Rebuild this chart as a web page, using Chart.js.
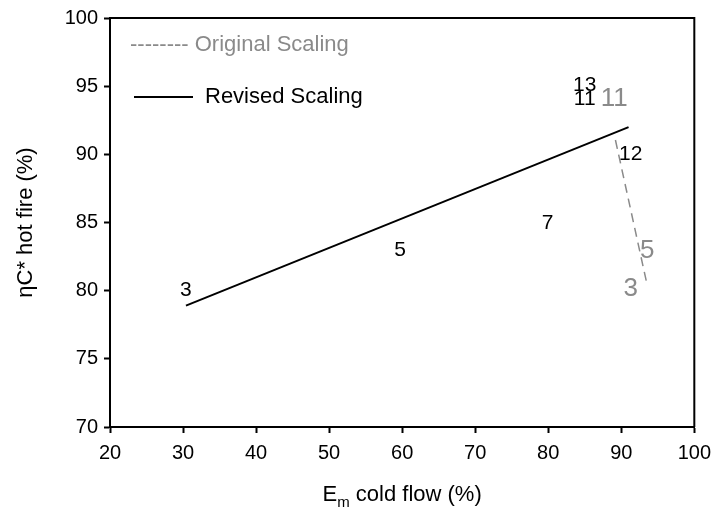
<!DOCTYPE html>
<html>
<head>
<meta charset="utf-8">
<script src="https://cdn.jsdelivr.net/npm/chart.js@4"></script>
<style>
  body { margin: 0; background: #fff; }
  #wrap { width: 719px; height: 519px; }
</style>
</head>
<body>
<div id="wrap"><canvas id="myChart" width="719" height="519"></canvas></div>
<script>
// lines
var revisedX = [30.4, 91.0];
var revisedY = [78.9, 92.0];
var originalX = [89.2, 93.55];
var originalY = [91.05, 80.4];

// point labels
var revisedText = ['3', '5', '7', '12', '13', '11'];
var revisedTextX = [30.4, 59.7, 79.9, 91.3, 85.0, 85.0];
var revisedTextY = [80.0, 83.0, 84.95, 90.0, 95.1, 94.05];
var originalText = ['3', '5', '11'];
var originalTextX = [91.3, 93.55, 89.05];
var originalTextY = [80.1, 82.9, 94.1];

var xTitle = ['E', 'm', ' cold flow (%)'];
var yTitle = 'ηC* hot fire (%)';
var legendText = ['-------- Original Scaling', 'Revised Scaling'];

var FONT = '"Liberation Sans", Arial, sans-serif';
var GREY = '#8a8a8a';

function toPoints(xs, ys) {
    var pts = [];
    for (var i = 0; i < xs.length; i++) pts.push({ x: xs[i], y: ys[i] });
    return pts;
}

var extras = {
    id: 'extras',
    afterDraw: function (chart) {
        var ctx = chart.ctx;
        var a = chart.chartArea;
        var sx = chart.scales.x, sy = chart.scales.y;
        ctx.save();
        // frame top + right
        ctx.strokeStyle = '#000';
        ctx.lineWidth = 2;
        ctx.beginPath();
        ctx.moveTo(a.left, a.top);
        ctx.lineTo(a.right, a.top);
        ctx.lineTo(a.right, a.bottom);
        ctx.stroke();

        // point labels
        ctx.textAlign = 'center';
        ctx.textBaseline = 'middle';
        ctx.fillStyle = '#000';
        ctx.font = '21px ' + FONT;
        for (var i = 0; i < revisedText.length; i++) {
            ctx.fillText(revisedText[i], sx.getPixelForValue(revisedTextX[i]), sy.getPixelForValue(revisedTextY[i]));
        }
        ctx.fillStyle = GREY;
        ctx.font = '26px ' + FONT;
        for (var j = 0; j < originalText.length; j++) {
            ctx.fillText(originalText[j], sx.getPixelForValue(originalTextX[j]), sy.getPixelForValue(originalTextY[j]));
        }

        // legend
        ctx.textAlign = 'left';
        ctx.font = '22px ' + FONT;
        ctx.fillStyle = GREY;
        ctx.fillText(legendText[0], a.left + 20, 45);
        ctx.strokeStyle = '#000';
        ctx.lineWidth = 2;
        ctx.beginPath();
        ctx.moveTo(a.left + 24, 97);
        ctx.lineTo(a.left + 83, 97);
        ctx.stroke();
        ctx.fillStyle = '#000';
        ctx.fillText(legendText[1], a.left + 95, 97);

        // x title with subscript
        var big = '22px ' + FONT, small = '15px ' + FONT;
        ctx.font = big;
        var w1 = ctx.measureText(xTitle[0]).width;
        var w3 = ctx.measureText(xTitle[2]).width;
        ctx.font = small;
        var w2 = ctx.measureText(xTitle[1]).width;
        var cx = (a.left + a.right) / 2;
        var x0 = cx - (w1 + w2 + w3) / 2;
        var ty = 495;
        ctx.fillStyle = '#000';
        ctx.font = big;
        ctx.fillText(xTitle[0], x0, ty);
        ctx.font = small;
        ctx.fillText(xTitle[1], x0 + w1, ty + 8);
        ctx.font = big;
        ctx.fillText(xTitle[2], x0 + w1 + w2, ty);
        ctx.restore();
    }
};

var data = {
    datasets: [
        {
            label: 'Revised Scaling',
            data: toPoints(revisedX, revisedY),
            showLine: true,
            borderColor: '#000',
            borderWidth: 2,
            pointRadius: 0
        },
        {
            label: 'Original Scaling',
            data: toPoints(originalX, originalY),
            showLine: true,
            borderColor: GREY,
            borderWidth: 1.5,
            borderDash: [9, 6],
            pointRadius: 0
        }
    ]
};

var config = {
    type: 'scatter',
    data: data,
    options: {
        responsive: false,
        animation: false,
        layout: { padding: { top: 15, right: 21, left: 0, bottom: 0 } },
        plugins: {
            legend: { display: false },
            tooltip: { enabled: false }
        },
        scales: {
            x: {
                min: 20, max: 100,
                afterFit: function (s) { s.height = 92; },
                ticks: { stepSize: 10, autoSkip: false, maxRotation: 0, padding: 8, color: '#000', font: { family: FONT, size: 20 } },
                grid: { drawOnChartArea: false, drawTicks: true, tickLength: 6, tickColor: '#000', tickWidth: 2 },
                border: { display: true, color: '#000', width: 2 }
            },
            y: {
                min: 70, max: 100,
                afterFit: function (s) { s.width = 110; },
                ticks: { stepSize: 5, padding: 6, color: '#000', font: { family: FONT, size: 20 } },
                grid: { drawOnChartArea: false, drawTicks: true, tickLength: 6, tickColor: '#000', tickWidth: 2 },
                border: { display: true, color: '#000', width: 2 },
                title: { display: true, text: yTitle, color: '#000', font: { family: FONT, size: 22 }, padding: { top: 13, bottom: 0 } }
            }
        }
    },
    plugins: [extras]
};

var myChart = new Chart(document.getElementById('myChart').getContext('2d'), config);
</script>
</body>
</html>
